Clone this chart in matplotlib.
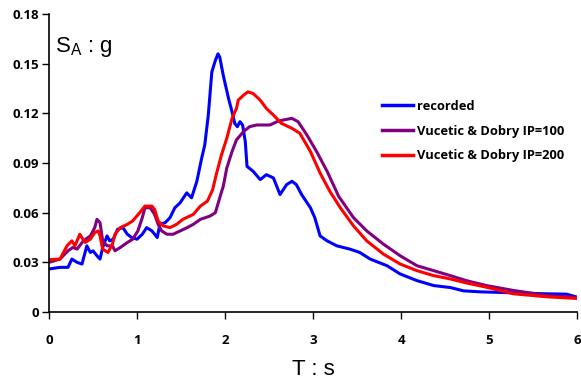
import matplotlib
matplotlib.use("Agg")
import matplotlib.pyplot as plt

# recorded spectrum
t_rec = [0.0, 0.125, 0.216, 0.26, 0.32, 0.375, 0.41, 0.43, 0.47, 0.5, 0.545, 0.58,
         0.61, 0.66, 0.69, 0.73, 0.78, 0.84, 0.89, 0.94, 1.0, 1.06, 1.11, 1.17,
         1.23, 1.26, 1.32, 1.375, 1.43, 1.49, 1.565, 1.62, 1.68, 1.735, 1.77, 1.81,
         1.85, 1.89, 1.92, 1.94, 1.98, 2.04, 2.08, 2.11, 2.14, 2.17, 2.2, 2.23,
         2.25, 2.32, 2.40, 2.47, 2.55, 2.625, 2.70, 2.76, 2.81, 2.87, 2.97, 3.02,
         3.08, 3.16, 3.27, 3.42, 3.53, 3.65, 3.84, 3.99, 4.18, 4.37, 4.56, 4.71,
         4.9, 5.28, 5.66, 5.88, 6.0]
sa_rec = [0.026, 0.027, 0.027, 0.032, 0.030, 0.029, 0.036, 0.040, 0.036, 0.037, 0.034, 0.032,
          0.039, 0.046, 0.043, 0.044, 0.050, 0.051, 0.047, 0.045, 0.044, 0.047, 0.051, 0.049,
          0.045, 0.053, 0.054, 0.057, 0.063, 0.066, 0.072, 0.069, 0.079, 0.093, 0.101, 0.119,
          0.145, 0.152, 0.156, 0.154, 0.143, 0.129, 0.121, 0.114, 0.112, 0.115, 0.113, 0.103,
          0.088, 0.085, 0.080, 0.083, 0.081, 0.071, 0.077, 0.079, 0.077, 0.071, 0.063, 0.057,
          0.046, 0.043, 0.040, 0.038, 0.036, 0.032, 0.028, 0.023, 0.019, 0.016, 0.0148, 0.0128,
          0.0122, 0.0116, 0.011, 0.0108, 0.009]

# Vucetic & Dobry IP=100
t_100 = [0.0, 0.125, 0.216, 0.27, 0.32, 0.39, 0.47, 0.52, 0.545, 0.58, 0.61, 0.66,
         0.72, 0.75, 0.81, 0.89, 0.95, 1.01, 1.06, 1.09, 1.15, 1.2, 1.24, 1.28,
         1.34, 1.41, 1.49, 1.57, 1.64, 1.72, 1.83, 1.89, 1.94, 1.98, 2.02, 2.08,
         2.13, 2.21, 2.28, 2.36, 2.51, 2.59, 2.66, 2.76, 2.83, 2.93, 3.04, 3.16,
         3.29, 3.46, 3.61, 3.80, 3.99, 4.18, 4.37, 4.56, 4.74, 4.97, 5.28, 5.66, 6.0]
sa_100 = [0.030, 0.032, 0.037, 0.039, 0.038, 0.043, 0.046, 0.051, 0.056, 0.054, 0.043, 0.040,
          0.040, 0.037, 0.039, 0.042, 0.044, 0.049, 0.057, 0.063, 0.063, 0.059, 0.053, 0.049,
          0.047, 0.047, 0.049, 0.051, 0.053, 0.056, 0.058, 0.060, 0.069, 0.076, 0.087, 0.097,
          0.104, 0.109, 0.112, 0.113, 0.113, 0.115, 0.116, 0.117, 0.115, 0.107, 0.097, 0.085,
          0.070, 0.057, 0.049, 0.041, 0.034, 0.028, 0.025, 0.022, 0.019, 0.016, 0.013, 0.010,
          0.0088]

# Vucetic & Dobry IP=200
t_200 = [0.0, 0.125, 0.205, 0.26, 0.295, 0.35, 0.41, 0.47, 0.52, 0.56, 0.58, 0.61,
         0.67, 0.72, 0.75, 0.81, 0.89, 0.95, 1.03, 1.09, 1.17, 1.2, 1.24, 1.3,
         1.375, 1.45, 1.52, 1.64, 1.72, 1.8, 1.86, 1.90, 1.96, 2.02, 2.08, 2.13,
         2.15, 2.21, 2.26, 2.32, 2.40, 2.47, 2.55, 2.64, 2.76, 2.85, 2.97, 3.08,
         3.19, 3.31, 3.46, 3.61, 3.80, 3.99, 4.18, 4.37, 4.56, 4.74, 4.97, 5.28,
         5.66, 6.0]
sa_200 = [0.0316, 0.032, 0.040, 0.043, 0.040, 0.047, 0.042, 0.044, 0.048, 0.049, 0.046, 0.038,
          0.036, 0.041, 0.047, 0.051, 0.053, 0.055, 0.060, 0.064, 0.064, 0.062, 0.055, 0.052,
          0.051, 0.053, 0.056, 0.059, 0.064, 0.067, 0.074, 0.083, 0.095, 0.105, 0.117, 0.123,
          0.128, 0.131, 0.133, 0.132, 0.128, 0.123, 0.119, 0.114, 0.111, 0.108, 0.097, 0.084,
          0.073, 0.063, 0.052, 0.043, 0.035, 0.029, 0.025, 0.022, 0.020, 0.0176, 0.015, 0.011,
          0.0092, 0.0082]

series_labels = ["recorded", "Vucetic & Dobry IP=100", "Vucetic & Dobry IP=200"]
x_ticks = [0, 1, 2, 3, 4, 5, 6]
y_ticks = [0, 0.03, 0.06, 0.09, 0.12, 0.15, 0.18]
y_ticklabels = ["0", "0.03", "0.06", "0.09", "0.12", "0.15", "0.18"]

fig = plt.figure(figsize=(5.81, 3.81), dpi=100)
ax = fig.add_axes([0.0843, 0.181, 0.909, 0.782])

ax.plot(t_rec, sa_rec, color="#0000FF", lw=2.2, label=series_labels[0])
ax.plot(t_100, sa_100, color="#800080", lw=2.2, label=series_labels[1])
ax.plot(t_200, sa_200, color="#FF0000", lw=2.2, label=series_labels[2])

ax.set_xlim(0, 6)
ax.set_ylim(0, 0.18)
ax.set_xticks(x_ticks)
ax.set_yticks(y_ticks)
ax.set_yticklabels(y_ticklabels)
for lab in ax.get_xticklabels() + ax.get_yticklabels():
    lab.set_fontfamily("Open Sans")
    lab.set_fontweight("bold")
    lab.set_fontsize(9.5)
ax.tick_params(axis="x", direction="out", length=5, width=1, pad=11)
ax.tick_params(axis="y", direction="out", length=5, width=1, pad=2)

ax.spines["top"].set_visible(False)
ax.spines["right"].set_visible(False)
ax.spines["left"].set_linewidth(1.2)
ax.spines["bottom"].set_linewidth(1.2)

ax.text(0.012, 0.89, r"S$_\mathregular{A}$ : g", transform=ax.transAxes,
        fontsize=16, family="Liberation Sans", va="center", ha="left")
fig.text(0.539, 0.03, "T : s", fontsize=16, family="Liberation Sans",
         va="center", ha="center")

leg = ax.legend(loc="upper left", bbox_to_anchor=(0.631, 0.712), frameon=False,
                borderaxespad=0, borderpad=0,
                handlelength=2.4, handletextpad=0.3, labelspacing=0.9,
                prop={"family": "Open Sans", "weight": "bold", "size": 9.3})
for line in leg.get_lines():
    line.set_linewidth(2.5)

fig.savefig("out.png", dpi=100)
